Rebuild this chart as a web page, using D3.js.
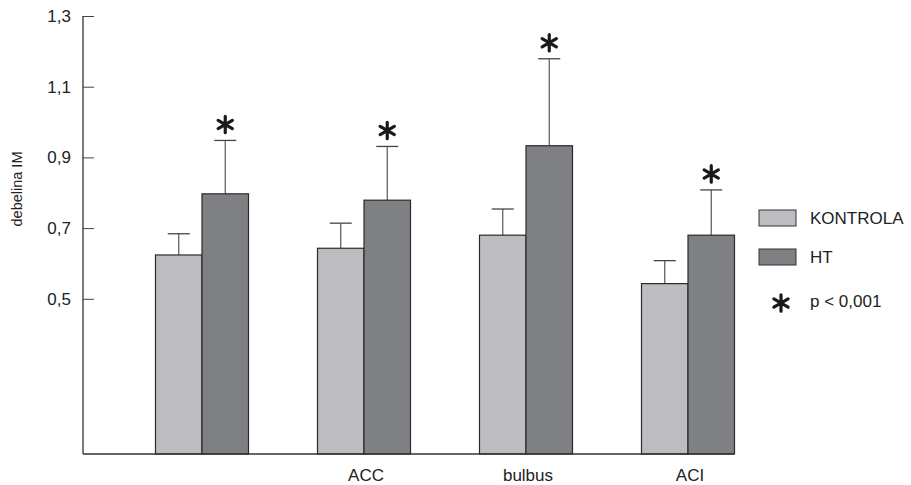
<!DOCTYPE html>
<html>
<head>
<meta charset="utf-8">
<script src="https://cdn.jsdelivr.net/npm/d3@7"></script>
<style>
  body { margin: 0; background: #fff; }
  text { font-family: "Liberation Sans", Arial, sans-serif; fill: #222; }
</style>
</head>
<body>
<svg id="chart" width="911" height="485"></svg>
<script>
// data
var categories = ["", "ACC", "bulbus", "ACI"];
var series = ["KONTROLA", "HT"];
var kontrolaMean = [0.624, 0.643, 0.680, 0.543];
var kontrolaSd   = [0.060, 0.071, 0.074, 0.065];
var htMean = [0.797, 0.779, 0.933, 0.680];
var htSd   = [0.151, 0.152, 0.246, 0.128];
var significant = [true, true, true, true];
var yTicks = [0.5, 0.7, 0.9, 1.1, 1.3];
var colors = { "KONTROLA": "#bdbdc1", "HT": "#7f8084" };

var chart = d3.select("#chart"),
    plotLeft = 83, plotRight = 734, plotTop = 16, plotBottom = 454;

var y = d3.scaleLinear()
    .domain([0.061, 1.3])
    .range([plotBottom, plotTop]);

// groups centred in bands of 162px
var x0 = d3.scaleBand()
    .domain(categories)
    .range([121, 769]);

var x1 = d3.scaleBand()
    .domain(series)
    .range([0, 93]);

var fmt = d => d3.format(".1f")(d).replace(".", ",");

// y axis
var yAxis = d3.axisRight(y)
    .tickValues(yTicks)
    .tickSize(11)
    .tickFormat("");

var yg = chart.append("g")
    .attr("transform", "translate(" + plotLeft + ",0)")
    .call(yAxis);
yg.select(".domain").remove();
yg.selectAll(".tick line").attr("stroke", "#444");

chart.append("g").selectAll("text")
    .data(yTicks)
    .join("text")
    .attr("x", 71)
    .attr("y", d => y(d))
    .attr("dy", "0.35em")
    .attr("text-anchor", "end")
    .style("font-size", "17px")
    .text(fmt);

chart.append("line")
    .attr("x1", plotLeft).attr("x2", plotLeft)
    .attr("y1", plotTop).attr("y2", plotBottom)
    .attr("stroke", "#333").attr("stroke-width", 1.3);

chart.append("text")
    .attr("transform", "translate(22,189) rotate(-90)")
    .attr("text-anchor", "middle")
    .style("font-size", "14.5px")
    .text("debelina IM");

// bars
var rows = [];
categories.forEach(function(c, i) {
    rows.push({ cat: c, s: "KONTROLA", v: kontrolaMean[i], sd: kontrolaSd[i] });
    rows.push({ cat: c, s: "HT", v: htMean[i], sd: htSd[i] });
});

function barX(d) {
    return x0(d.cat) + x0.bandwidth() / 2 - x1.range()[1] / 2 + x1(d.s);
}

var barG = chart.append("g");

barG.selectAll(".err")
    .data(rows)
    .join("line")
    .attr("class", "err")
    .attr("x1", d => barX(d) + x1.bandwidth() / 2)
    .attr("x2", d => barX(d) + x1.bandwidth() / 2)
    .attr("y1", d => y(d.v))
    .attr("y2", d => y(d.v + d.sd))
    .attr("stroke", "#555")
    .attr("stroke-width", 1.2);

barG.selectAll(".cap")
    .data(rows)
    .join("line")
    .attr("class", "cap")
    .attr("x1", d => barX(d) + x1.bandwidth() / 2 - 11)
    .attr("x2", d => barX(d) + x1.bandwidth() / 2 + 11)
    .attr("y1", d => y(d.v + d.sd))
    .attr("y2", d => y(d.v + d.sd))
    .attr("stroke", "#444")
    .attr("stroke-width", 1.3);

barG.selectAll(".bar")
    .data(rows)
    .join("rect")
    .attr("class", "bar")
    .attr("x", barX)
    .attr("width", x1.bandwidth())
    .attr("y", d => y(d.v))
    .attr("height", d => plotBottom - y(d.v))
    .attr("fill", d => colors[d.s])
    .attr("stroke", "#2a2a2a")
    .attr("stroke-width", 1.2);

// significance stars
var star = d3.symbol().type(d3.symbolAsterisk).size(190);

barG.selectAll(".star")
    .data(rows.filter(d => d.s === "HT" && significant[categories.indexOf(d.cat)]))
    .join("path")
    .attr("class", "star")
    .attr("d", star)
    .attr("transform", d => "translate(" + (barX(d) + x1.bandwidth() / 2) + "," + (y(d.v + d.sd) - 16) + ")")
    .attr("stroke", "#1a1a1a")
    .attr("stroke-width", 3.2)
    .attr("stroke-linecap", "round")
    .attr("fill", "none");

// x axis line
chart.append("line")
    .attr("x1", plotLeft).attr("x2", plotRight)
    .attr("y1", plotBottom).attr("y2", plotBottom)
    .attr("stroke", "#333").attr("stroke-width", 1.3);

chart.append("g").selectAll("text")
    .data(categories)
    .join("text")
    .attr("x", d => x0(d) + x0.bandwidth() / 2 + 2)
    .attr("y", 481)
    .attr("text-anchor", "middle")
    .style("font-size", "17px")
    .text(d => d);

// legend
var legend = chart.append("g").attr("transform", "translate(759,210)");
series.forEach(function(s, i) {
    legend.append("rect")
        .attr("x", 0).attr("y", i * 39)
        .attr("width", 37).attr("height", 16)
        .attr("fill", colors[s])
        .attr("stroke", "#333")
        .attr("stroke-width", 1);
    legend.append("text")
        .attr("x", 51).attr("y", i * 39 + 8)
        .attr("dy", "0.35em")
        .style("font-size", "17px")
        .text(s);
});
legend.append("path")
    .attr("d", star)
    .attr("transform", "translate(22,93)")
    .attr("stroke", "#1a1a1a")
    .attr("stroke-width", 3.2)
    .attr("stroke-linecap", "round")
    .attr("fill", "none");
legend.append("text")
    .attr("x", 51).attr("y", 91)
    .attr("dy", "0.35em")
    .style("font-size", "17px")
    .text("p < 0,001");
</script>
</body>
</html>
